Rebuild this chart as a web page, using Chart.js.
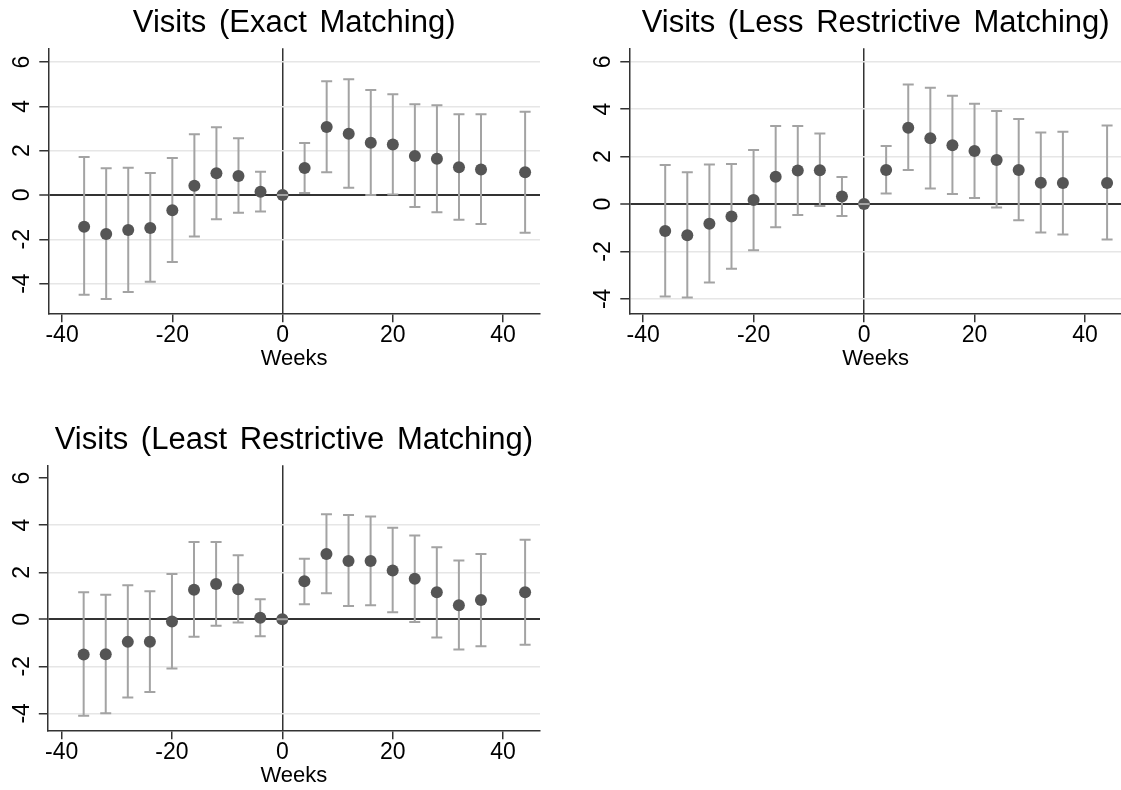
<!DOCTYPE html>
<html>
<head>
<meta charset="utf-8">
<script src="https://cdn.jsdelivr.net/npm/chart.js@4.4.1/dist/chart.umd.min.js"></script>
<style>
  html, body { margin: 0; padding: 0; background: #fff; overflow: hidden; }
  body { width: 1121px; height: 790px; position: relative; }
  canvas { position: absolute; }
</style>
</head>
<body>
<canvas id="c1" width="560" height="380" style="left:0;top:0"></canvas>
<canvas id="c2" width="568" height="380" style="left:560px;top:0"></canvas>
<canvas id="c3" width="560" height="380" style="left:0;top:417px"></canvas>
<script>
// event time (weeks) and axis ticks
const weeks = [-36, -32, -28, -24, -20, -16, -12, -8, -4, 0, 4, 8, 12, 16, 20, 24, 28, 32, 36, 44];
const xTicks = [-40, -20, 0, 20, 40];
const yTicks = [-4, -2, 0, 2, 4, 6];

// exact matching
const exactEst = [-1.43, -1.76, -1.58, -1.49, -0.69, 0.42, 0.98, 0.86, 0.15, 0, 1.22, 3.07, 2.76, 2.36, 2.28, 1.76, 1.63, 1.25, 1.15, 1.03];
const exactLo  = [-4.50, -4.69, -4.38, -3.92, -3.02, -1.88, -1.10, -0.80, -0.75, 0, 0.09, 1.02, 0.32, 0.00, 0.02, -0.54, -0.78, -1.12, -1.31, -1.70];
const exactHi  = [1.71, 1.20, 1.23, 0.99, 1.67, 2.74, 3.06, 2.56, 1.05, 0, 2.35, 5.13, 5.22, 4.74, 4.54, 4.09, 4.05, 3.64, 3.64, 3.76];

// less restrictive matching
const lessEst = [-1.14, -1.32, -0.83, -0.53, 0.17, 1.15, 1.41, 1.42, 0.32, 0, 1.43, 3.22, 2.77, 2.48, 2.24, 1.86, 1.43, 0.90, 0.89, 0.89];
const lessLo  = [-3.90, -3.94, -3.31, -2.73, -1.95, -0.98, -0.46, -0.08, -0.51, 0, 0.44, 1.43, 0.65, 0.42, 0.25, -0.15, -0.68, -1.20, -1.29, -1.50];
const lessHi  = [1.65, 1.34, 1.67, 1.69, 2.28, 3.29, 3.29, 2.97, 1.14, 0, 2.45, 5.04, 4.90, 4.57, 4.23, 3.92, 3.59, 3.02, 3.05, 3.31];

// least restrictive matching
const leastEst = [-1.50, -1.49, -0.96, -0.95, -0.09, 1.26, 1.50, 1.28, 0.07, 0, 1.62, 2.78, 2.48, 2.48, 2.07, 1.72, 1.15, 0.60, 0.82, 1.15];
const leastLo  = [-4.10, -3.99, -3.32, -3.09, -2.09, -0.74, -0.27, -0.14, -0.72, 0, 0.64, 1.11, 0.57, 0.60, 0.30, -0.11, -0.77, -1.28, -1.15, -1.08];
const leastHi  = [1.15, 1.04, 1.45, 1.19, 1.93, 3.29, 3.29, 2.72, 0.85, 0, 2.57, 4.47, 4.43, 4.37, 3.89, 3.56, 3.06, 2.50, 2.78, 3.38];

const FONT = '"Liberation Sans", Arial, sans-serif';
const DOT = '#555555';
const BAR = '#a3a3a3';
const AXIS = '#333333';
const GRID = '#e6e6e6';

// vertical bars under the dots, caps drawn afterwards
const errorBars = {
    id: 'errorBars',
    beforeDraw(chart) { chart.ctx.wordSpacing = '4px'; },   // slightly wider gaps in the titles
    beforeDatasetsDraw(chart) { drawBars(chart, false); },
    afterDatasetsDraw(chart) { drawBars(chart, true); }
};

function drawBars(chart, caps) {
    const ds = chart.data.datasets[0];
    const x = chart.scales.x, y = chart.scales.y;
    const ctx = chart.ctx;
    ctx.save();
    ctx.strokeStyle = BAR;
    ctx.lineWidth = 2;
    ds.data.forEach((p, i) => {
        const px = x.getPixelForValue(p.x);
        const lo = y.getPixelForValue(ds.lo[i]);
        const hi = y.getPixelForValue(ds.hi[i]);
        ctx.beginPath();
        if (caps) {
            ctx.moveTo(px - 5.5, lo); ctx.lineTo(px + 5.5, lo);
            ctx.moveTo(px - 5.5, hi); ctx.lineTo(px + 5.5, hi);
        } else {
            ctx.moveTo(px, lo); ctx.lineTo(px, hi);
        }
        ctx.stroke();
    });
    ctx.restore();
}

function makePanel(id, title, est, lo, hi, yMin, yMax, yAxisW, padRight, gridVals) {
    new Chart(document.getElementById(id), {
        type: 'scatter',
        data: {
            datasets: [{
                data: weeks.map((w, i) => ({x: w, y: est[i]})),
                lo: lo,
                hi: hi,
                pointRadius: 6,
                pointHoverRadius: 6,
                backgroundColor: DOT,
                borderWidth: 0
            }]
        },
        options: {
            responsive: false,
            animation: false,
            events: [],
            layout: { padding: { left: 0, right: padRight, top: 0, bottom: 0 } },
            plugins: {
                legend: { display: false },
                tooltip: { enabled: false },
                title: {
                    display: true,
                    text: title,
                    color: '#000',
                    fullSize: false,
                    font: { family: FONT, size: 31, weight: 'normal', lineHeight: 1.16 },
                    padding: { top: 5, bottom: 7.3 }
                }
            },
            scales: {
                x: {
                    type: 'linear',
                    min: -42.5,
                    max: 46.7,
                    afterBuildTicks: s => { s.ticks = xTicks.map(v => ({value: v})); },
                    afterFit: s => { s.height = 66.7; },
                    border: { display: true, color: AXIS, width: 1.5 },
                    grid: {
                        color: c => c.tick.value === 0 ? AXIS : 'rgba(0,0,0,0)',
                        lineWidth: 1.5,
                        tickColor: AXIS,
                        tickWidth: 1.5,
                        tickLength: 9
                    },
                    ticks: {
                        autoSkip: false,
                        maxRotation: 0,
                        padding: 0,
                        color: '#000',
                        font: { family: FONT, size: 23 },
                        callback: v => String(v)
                    },
                    title: {
                        display: true,
                        text: 'Weeks',
                        color: '#000',
                        font: { family: FONT, size: 22 },
                        padding: { top: 0, bottom: 8 }
                    }
                },
                y: {
                    type: 'linear',
                    min: yMin,
                    max: yMax,
                    afterBuildTicks: s => { s.ticks = yTicks.map(v => ({value: v})); },
                    afterFit: s => { s.width = yAxisW; },
                    border: { display: true, color: AXIS, width: 1.5 },
                    grid: {
                        color: c => c.tick.value === 0 ? AXIS : (gridVals.includes(c.tick.value) ? GRID : 'rgba(0,0,0,0)'),
                        lineWidth: c => c.tick.value === 0 ? 2 : 1.5,
                        tickColor: AXIS,
                        tickWidth: 1.5,
                        tickLength: 9
                    },
                    ticks: {
                        autoSkip: false,
                        minRotation: 90,
                        maxRotation: 90,
                        crossAlign: 'center',
                        padding: 6,
                        color: '#000',
                        font: { family: FONT, size: 23 },
                        callback: v => String(v)
                    }
                }
            }
        },
        plugins: [errorBars]
    });
}

makePanel('c1', 'Visits (Exact Matching)', exactEst, exactLo, exactHi, -5.34, 6.62, 48.3, 20, [-4, -2, 2, 4, 6]);
makePanel('c2', 'Visits (Less Restrictive Matching)', lessEst, lessLo, lessHi, -4.61, 6.57, 69.3, 0, [-4, -2, 2, 4, 6]);
makePanel('c3', 'Visits (Least Restrictive Matching)', leastEst, leastLo, leastHi, -4.72, 6.55, 47.8, 20, [-4, -2, 2, 4]);
</script>
</body>
</html>
